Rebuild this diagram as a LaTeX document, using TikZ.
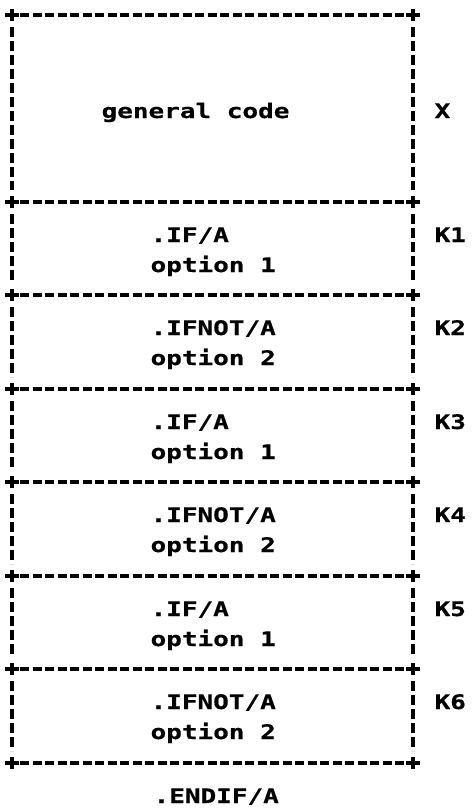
\documentclass[tikz,border=0pt]{standalone}
\usepackage{fontspec}
\newfontfamily\lpfont{DejaVu Sans Mono}[FakeStretch=1.3,FakeBold=0.6]
\begin{document}
\begin{tikzpicture}[x=1pt,y=-1pt,line width=3.2pt,
  hline/.style={dash pattern=on 9pt off 3.5pt,shorten <=8pt,shorten >=8pt},
  vline/.style={dash pattern=on 10pt off 4pt,shorten <=12pt,shorten >=12pt},
  cross/.style={line width=3.4pt},
  txt/.style={anchor=base west,inner sep=0pt,font=\lpfont\bfseries\fontsize{20}{22}\selectfont}]
\useasboundingbox (0,0) rectangle (476,809);
% corners
\foreach \yy [count=\i from 0] in {15,202,295,389,482,576,669,763}{
  \coordinate (L\i) at (12,\yy);
  \coordinate (R\i) at (413,\yy);
}
% horizontal lines and crosses
\foreach \i in {0,...,7}{
  \draw[hline] (L\i) -- (R\i);
  \draw[cross] (L\i) ++(-7,0) -- ++(14,0) (L\i) ++(0,-6) -- ++(0,12);
  \draw[cross] (R\i) ++(-7,0) -- ++(14,0) (R\i) ++(0,-6) -- ++(0,12);
}
% vertical lines
\foreach \i [evaluate=\i as \j using int(\i+1)] in {0,...,6}{
  \draw[vline] (L\i) -- (L\j);
  \draw[vline] (R\i) -- (R\j);
}
% texts
\node[txt] (gen) at (100,118) {general code};
\node[txt] (lx) at (433,118) {X};
\node[txt] (a1) at (149,242) {.IF/A};
\node[txt] (b1) at (149,272) {option 1};
\node[txt] (k1) at (433,242) {K1};
\node[txt] (a2) at (149,335) {.IFNOT/A};
\node[txt] (b2) at (149,365) {option 2};
\node[txt] (k2) at (433,335) {K2};
\node[txt] (a3) at (149,429) {.IF/A};
\node[txt] (b3) at (149,459) {option 1};
\node[txt] (k3) at (433,429) {K3};
\node[txt] (a4) at (149,522) {.IFNOT/A};
\node[txt] (b4) at (149,552) {option 2};
\node[txt] (k4) at (433,522) {K4};
\node[txt] (a5) at (149,616) {.IF/A};
\node[txt] (b5) at (149,646) {option 1};
\node[txt] (k5) at (433,616) {K5};
\node[txt] (a6) at (149,709) {.IFNOT/A};
\node[txt] (b6) at (149,739) {option 2};
\node[txt] (k6) at (433,709) {K6};
\node[txt] (endif) at (152,803) {.ENDIF/A};
\end{tikzpicture}
\end{document}
